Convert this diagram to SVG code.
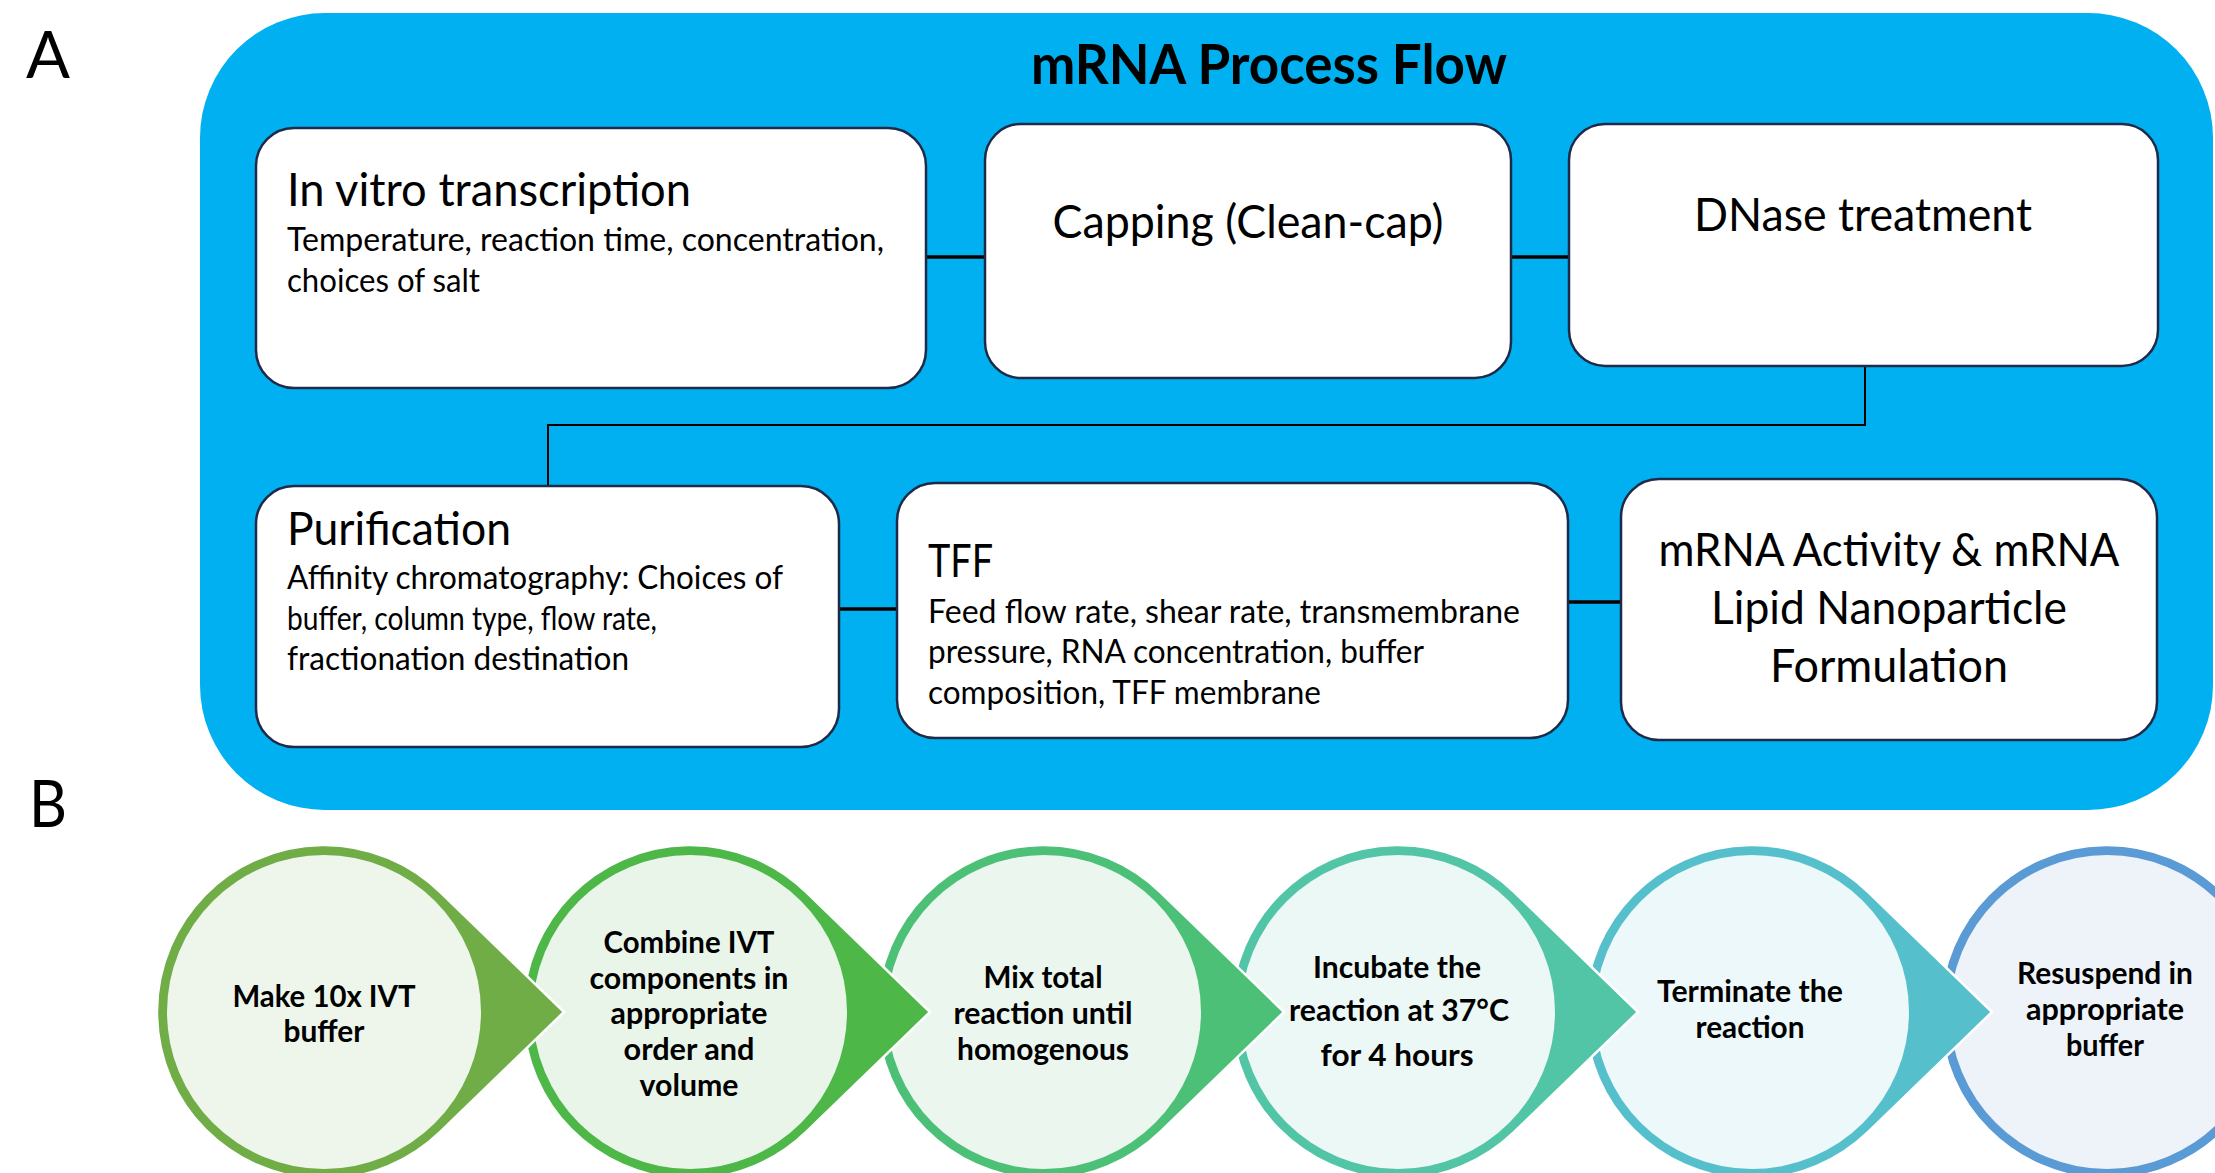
<svg xmlns="http://www.w3.org/2000/svg" xmlns:xlink="http://www.w3.org/1999/xlink" width="2215" height="1173" viewBox="0 0 2215 1173">
  <style>
    .panel { fill: #00B0F0; }
    .box { fill: #FFFFFF; stroke: #1E2B48; stroke-width: 2.5; }
    .head { font-family: Lato, "Liberation Sans", sans-serif; font-size: 46px; fill: #000; }
    .sub { font-family: Lato, "Liberation Sans", sans-serif; font-size: 32.5px; fill: #000; }
    .title { font-family: Lato, "Liberation Sans", sans-serif; font-size: 55px; font-weight: bold; fill: #000; }
    .tag { font-family: Lato, "Liberation Sans", sans-serif; font-size: 66px; fill: #000; }
    .step { font-family: Lato, "Liberation Sans", sans-serif; font-size: 31px; font-weight: bold; fill: #000; text-anchor: middle; }
    .mid { text-anchor: middle; }
    .link { fill: none; stroke: #000; stroke-width: 3.5; }
    .link-thin { fill: none; stroke: #000; stroke-width: 2; }
    .pin { stroke: #FFFFFF; stroke-width: 2.5; }
  </style>
  <defs>
    <!-- circle with a pointer on its right side, centred on the origin -->
    <path id="pin" d="M116.2,-119.9 L240,0 L116.2,119.9 A167,167 0 1 1 116.2,-119.9 Z"/>
  </defs>

  <!-- panel labels -->
  <text class="tag" x="26" y="78" textLength="44" lengthAdjust="spacingAndGlyphs">A</text>
  <text class="tag" x="29" y="827" textLength="38" lengthAdjust="spacingAndGlyphs">B</text>

  <!-- panel A: process flow -->
  <rect class="panel" x="200" y="13" width="2013" height="797" rx="125" ry="125"/>
  <text class="title mid" x="1269" y="84" textLength="476" lengthAdjust="spacingAndGlyphs">mRNA Process Flow</text>

  <g id="connectors">
    <line class="link" x1="926" y1="257" x2="985" y2="257"/>
    <line class="link" x1="1511" y1="257" x2="1569" y2="257"/>
    <polyline class="link-thin" points="1865,366 1865,425 548,425 548,486"/>
    <line class="link" x1="839" y1="609" x2="897" y2="609"/>
    <line class="link" x1="1568" y1="602" x2="1621" y2="602"/>
  </g>

  <g id="ivt">
    <rect class="box" x="256" y="128" width="670" height="260" rx="38"/>
    <text class="head" x="287" y="206" textLength="404" lengthAdjust="spacingAndGlyphs">In vitro transcription</text>
    <text class="sub" x="287" y="251" textLength="597" lengthAdjust="spacingAndGlyphs">Temperature, reaction time, concentration,</text>
    <text class="sub" x="287" y="292" textLength="193" lengthAdjust="spacingAndGlyphs">choices of salt</text>
  </g>

  <g id="capping">
    <rect class="box" x="985" y="124" width="526" height="254" rx="36"/>
    <text class="head mid" x="1248" y="238" textLength="391" lengthAdjust="spacingAndGlyphs">Capping (Clean-cap)</text>
  </g>

  <g id="dnase">
    <rect class="box" x="1569" y="124" width="589" height="242" rx="36"/>
    <text class="head mid" x="1863" y="231" textLength="338" lengthAdjust="spacingAndGlyphs">DNase treatment</text>
  </g>

  <g id="purification">
    <rect class="box" x="256" y="486" width="583" height="261" rx="38"/>
    <text class="head" x="287" y="545" textLength="224" lengthAdjust="spacingAndGlyphs">Purification</text>
    <text class="sub" x="287" y="589" textLength="496" lengthAdjust="spacingAndGlyphs">Affinity chromatography: Choices of</text>
    <text class="sub" x="287" y="630" textLength="370" lengthAdjust="spacingAndGlyphs">buffer, column type, flow rate,</text>
    <text class="sub" x="287" y="670" textLength="342" lengthAdjust="spacingAndGlyphs">fractionation destination</text>
  </g>

  <g id="tff">
    <rect class="box" x="897" y="483" width="671" height="255" rx="38"/>
    <text class="head" x="928" y="577" textLength="65" lengthAdjust="spacingAndGlyphs">TFF</text>
    <text class="sub" x="928" y="623" textLength="592" lengthAdjust="spacingAndGlyphs">Feed flow rate, shear rate, transmembrane</text>
    <text class="sub" x="928" y="663" textLength="496" lengthAdjust="spacingAndGlyphs">pressure, RNA concentration, buffer</text>
    <text class="sub" x="928" y="704" textLength="393" lengthAdjust="spacingAndGlyphs">composition, TFF membrane</text>
  </g>

  <g id="formulation">
    <rect class="box" x="1621" y="479" width="536" height="261" rx="38"/>
    <text class="head mid" x="1889" y="566" textLength="461" lengthAdjust="spacingAndGlyphs">mRNA Activity &amp; mRNA</text>
    <text class="head mid" x="1889" y="624" textLength="356" lengthAdjust="spacingAndGlyphs">Lipid Nanoparticle</text>
    <text class="head mid" x="1889" y="682" textLength="238" lengthAdjust="spacingAndGlyphs">Formulation</text>
  </g>

  <!-- panel B: IVT protocol steps, drawn last-to-first so each pointer overlaps the next ring -->
  <g id="step6">
    <use xlink:href="#pin" href="#pin" class="pin" x="2107" y="1012" fill="#5B9BD5"/>
    <circle cx="2107" cy="1012" r="157" fill="#EEF3FA"/>
    <text class="step" x="2105" y="984" textLength="176" lengthAdjust="spacingAndGlyphs">Resuspend in</text>
    <text class="step" x="2105" y="1020" textLength="158" lengthAdjust="spacingAndGlyphs">appropriate</text>
    <text class="step" x="2105" y="1056" textLength="78" lengthAdjust="spacingAndGlyphs">buffer</text>
  </g>

  <g id="step5">
    <use xlink:href="#pin" href="#pin" class="pin" x="1752" y="1012" fill="#55C0CC"/>
    <circle cx="1752" cy="1012" r="157" fill="#ECF8F9"/>
    <text class="step" x="1750" y="1002" textLength="186" lengthAdjust="spacingAndGlyphs">Terminate the</text>
    <text class="step" x="1750" y="1038" textLength="109" lengthAdjust="spacingAndGlyphs">reaction</text>
  </g>

  <g id="step4">
    <use xlink:href="#pin" href="#pin" class="pin" x="1398" y="1012" fill="#52C5A6"/>
    <circle cx="1398" cy="1012" r="157" fill="#ECF8F5"/>
    <text class="step" x="1397" y="978" textLength="168" lengthAdjust="spacingAndGlyphs">Incubate the</text>
    <text class="step" x="1399" y="1021" textLength="220" lengthAdjust="spacingAndGlyphs">reaction at 37°C</text>
    <text class="step" x="1397" y="1066" textLength="153" lengthAdjust="spacingAndGlyphs">for 4 hours</text>
  </g>

  <g id="step3">
    <use xlink:href="#pin" href="#pin" class="pin" x="1044" y="1012" fill="#4DC077"/>
    <circle cx="1044" cy="1012" r="157" fill="#EBF6EE"/>
    <text class="step" x="1043" y="988" textLength="119" lengthAdjust="spacingAndGlyphs">Mix total</text>
    <text class="step" x="1043" y="1024" textLength="179" lengthAdjust="spacingAndGlyphs">reaction until</text>
    <text class="step" x="1043" y="1060" textLength="172" lengthAdjust="spacingAndGlyphs">homogenous</text>
  </g>

  <g id="step2">
    <use xlink:href="#pin" href="#pin" class="pin" x="690" y="1012" fill="#4DB848"/>
    <circle cx="690" cy="1012" r="157" fill="#EAF5EA"/>
    <text class="step" x="689" y="953" textLength="171" lengthAdjust="spacingAndGlyphs">Combine IVT</text>
    <text class="step" x="689" y="989" textLength="199" lengthAdjust="spacingAndGlyphs">components in</text>
    <text class="step" x="689" y="1024" textLength="157" lengthAdjust="spacingAndGlyphs">appropriate</text>
    <text class="step" x="689" y="1060" textLength="131" lengthAdjust="spacingAndGlyphs">order and</text>
    <text class="step" x="689" y="1096" textLength="99" lengthAdjust="spacingAndGlyphs">volume</text>
  </g>

  <g id="step1">
    <use xlink:href="#pin" href="#pin" class="pin" x="324" y="1012" fill="#70AD47"/>
    <circle cx="324" cy="1012" r="157" fill="#EEF5EA"/>
    <text class="step" x="324" y="1007" textLength="183" lengthAdjust="spacingAndGlyphs">Make 10x IVT</text>
    <text class="step" x="324" y="1042" textLength="81" lengthAdjust="spacingAndGlyphs">buffer</text>
  </g>
</svg>
